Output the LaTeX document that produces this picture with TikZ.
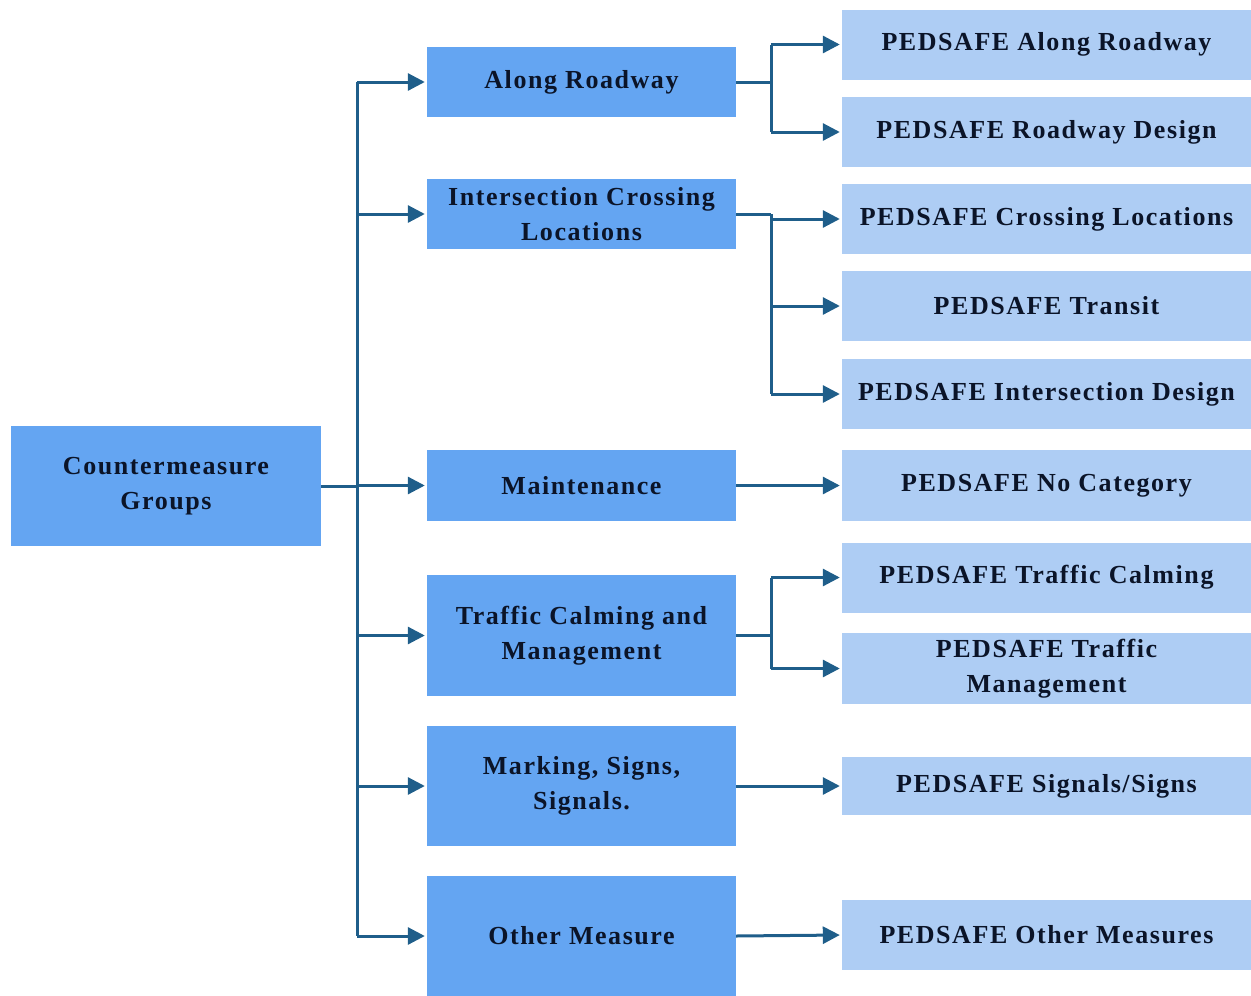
\documentclass[tikz,border=0pt]{standalone}
\usepackage{fontspec}
\setmainfont{Liberation Serif}[BoldFont={Liberation Serif Bold}, LetterSpace=6]
\usetikzlibrary{arrows.meta}
\definecolor{midblue}{HTML}{64A5F2}
\definecolor{lightblue}{HTML}{AECDF4}
\definecolor{linec}{HTML}{1F5E8A}
\definecolor{txt}{HTML}{0B1428}
\begin{document}
\begin{tikzpicture}[x=1pt,y=-1pt,
  box/.style={rectangle, inner sep=0pt, align=center, text=txt,
    font=\fontsize{26}{35}\selectfont\bfseries},
  midbox/.style={box, fill=midblue, minimum width=309, minimum height=70},
  rbox/.style={box, fill=lightblue, minimum width=409, minimum height=70},
  ln/.style={draw=linec, line width=3pt},
  arr/.style={ln, -{Triangle[length=17pt,width=17pt]}, shorten >=2pt}]
\useasboundingbox (0,0) rectangle (1251,996);
% left
\node[box, fill=midblue, minimum width=310, minimum height=120] (cg) at (166,486) {Countermeasure\\Groups};
% middle
\node[midbox] (ar) at (581.5,82) {Along Roadway};
\node[midbox] (ic) at (581.5,214) {Intersection Crossing\\Locations};
\node[midbox, minimum height=71] (mt) at (581.5,485.5) {Maintenance};
\node[midbox, minimum height=121] (tc) at (581.5,635.5) {Traffic Calming and\\Management};
\node[midbox, minimum height=120] (ms) at (581.5,786) {Marking, Signs,\\Signals.};
\node[midbox, minimum height=120] (om) at (581.5,936) {Other Measure};
% right
\node[rbox] (r1) at (1046.5,44.5) {PEDSAFE Along Roadway};
\node[rbox] (r2) at (1046.5,132) {PEDSAFE Roadway Design};
\node[rbox] (r3) at (1046.5,219) {PEDSAFE Crossing Locations};
\node[rbox] (r4) at (1046.5,306) {PEDSAFE Transit};
\node[rbox] (r5) at (1046.5,394) {PEDSAFE Intersection Design};
\node[rbox, minimum height=71] (r6) at (1046.5,485.5) {PEDSAFE No Category};
\node[rbox] (r7) at (1046.5,577.5) {PEDSAFE Traffic Calming};
\node[rbox, minimum height=71] (r8) at (1046.5,668.5) {PEDSAFE Traffic\\Management};
\node[rbox, minimum height=58] (r9) at (1046.5,786) {PEDSAFE Signals/Signs};
\node[rbox] (r10) at (1046.5,935) {PEDSAFE Other Measures};
% trunk
\draw[ln] (cg.east) -- ++(36,0) coordinate (t);
\draw[ln] (t |- ar.west) -- (t |- om.west);
\foreach \n in {ar,ic,mt,tc,ms,om}
  \draw[arr] (t |- \n.west) -- (\n.west);
% branches
\draw[ln] (ar.east) -- ++(35,0) coordinate (b1);
\draw[ln] (b1 |- r1.west) -- (b1 |- r2.west);
\draw[arr] (b1 |- r1.west) -- (r1.west);
\draw[arr] (b1 |- r2.west) -- (r2.west);
\draw[ln] (ic.east) -- ++(35,0) coordinate (b2);
\draw[ln] (b2) -- (b2 |- r5.west);
\draw[arr] (b2 |- r3.west) -- (r3.west);
\draw[arr] (b2 |- r4.west) -- (r4.west);
\draw[arr] (b2 |- r5.west) -- (r5.west);
\draw[arr] (mt.east) -- (r6.west);
\draw[ln] (tc.east) -- ++(35,0) coordinate (b3);
\draw[ln] (b3 |- r7.west) -- (b3 |- r8.west);
\draw[arr] (b3 |- r7.west) -- (r7.west);
\draw[arr] (b3 |- r8.west) -- (r8.west);
\draw[arr] (ms.east) -- (r9.west);
\draw[arr] (om.east) -- (r10.west);
\end{tikzpicture}
\end{document}
